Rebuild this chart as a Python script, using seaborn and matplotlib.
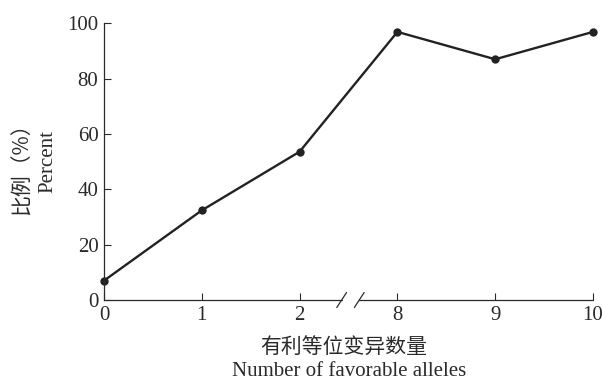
import matplotlib
matplotlib.use("Agg")
import matplotlib.pyplot as plt
import matplotlib.transforms as mtransforms
import seaborn as sns
import pandas as pd

# Data
categories = ["0", "1", "2", "8", "9", "10"]
percent = [7.0, 32.4, 53.6, 96.9, 87.0, 96.9]
yticks = [0, 20, 40, 60, 80, 100]

sns.set_theme(style="ticks")
plt.rcParams["font.family"] = ["Liberation Serif", "Noto Sans CJK SC"]

W, H = 602, 382
fig = plt.figure(figsize=(W / 100, H / 100), dpi=100)
ax = fig.add_axes([104 / W, 1 - 300 / H, (593 - 104) / W, (300 - 23.3) / H])

df = pd.DataFrame({"pos": range(len(categories)), "val": percent})
sns.lineplot(data=df, x="pos", y="val", ax=ax, color="#222222", linewidth=1.7,
             marker="o", markersize=6, markeredgewidth=0, clip_on=False)

ax.set_xlim(0, len(categories) - 1)
ax.set_ylim(0, 100)
ax.set_xticks(range(len(categories)))
ax.set_xticklabels(categories)
ax.set_yticks(yticks)
ax.set_xlabel("")
ax.set_ylabel("")

txt = "#2a2a2a"
for s in ["top", "right", "bottom"]:
    ax.spines[s].set_visible(False)
ax.spines["left"].set_color(txt)
ax.spines["left"].set_linewidth(0.9)
ax.tick_params(axis="both", direction="in", length=5, width=0.8, color=txt,
               labelsize=15, labelcolor=txt, pad=4)

# broken bottom axis
trans = mtransforms.blended_transform_factory(ax.transData, ax.transAxes)
g0, g1 = 2.43, 2.61
ax.plot([0, g0], [0, 0], transform=trans, color=txt, lw=0.9, clip_on=False)
ax.plot([g1, 5], [0, 0], transform=trans, color=txt, lw=0.9, clip_on=False)
dx = 0.05
dy = 7.5 / (300 - 23.3)
for g in (g0, g1):
    ax.plot([g - dx, g + dx], [-dy, dy], transform=trans, color=txt, lw=0.9, clip_on=False)

# axis labels
fig.text(22 / W, 1 - 164 / H, "比例（%）", rotation=90, ha="center", va="center",
         fontsize=15, color=txt, family=["Noto Sans CJK SC", "DejaVu Sans"])
fig.text(48 / W, 1 - 162 / H, "Percent", rotation=90, ha="center", va="center",
         fontsize=15, color=txt)
fig.text(344 / W, 1 - 347 / H, "有利等位变异数量", ha="center", va="center",
         fontsize=15, color=txt, family=["Noto Sans CJK SC", "DejaVu Sans"])
fig.text(349 / W, 1 - 371 / H, "Number of favorable alleles", ha="center", va="center",
         fontsize=15, color=txt)

fig.savefig("out.png", dpi=100)
